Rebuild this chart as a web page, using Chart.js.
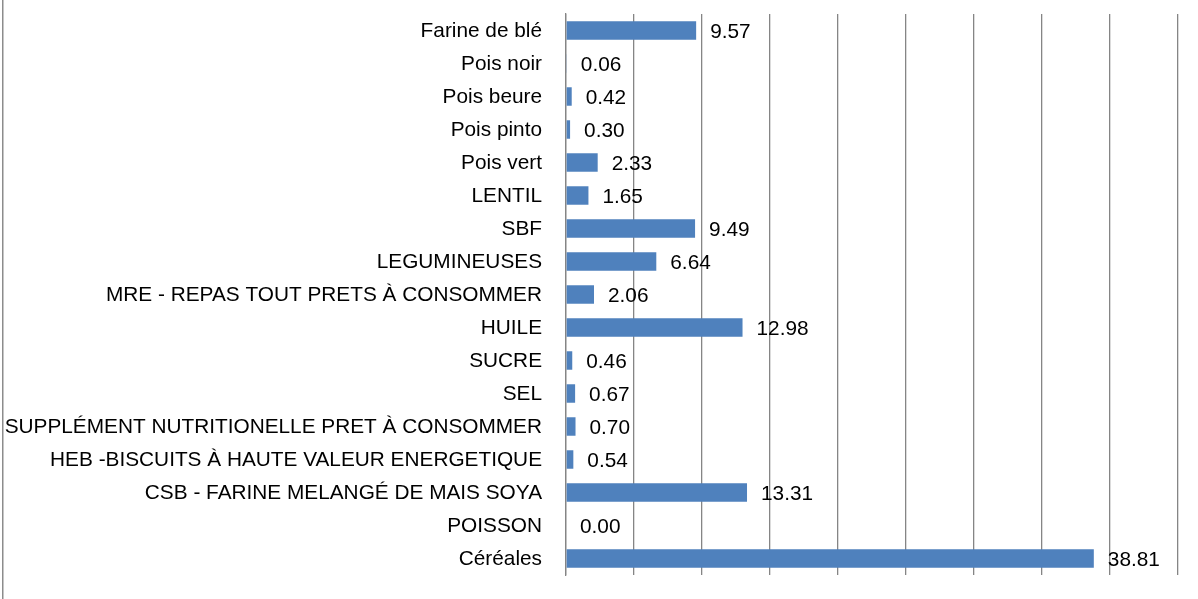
<!DOCTYPE html>
<html>
<head>
<meta charset="utf-8">
<script src="https://cdn.jsdelivr.net/npm/chart.js@4.4.0/dist/chart.umd.min.js"></script>
<style>
html,body{margin:0;padding:0;background:#fff;overflow:hidden}
#wrap{position:relative;width:1198px;height:599px}
canvas{display:block}
</style>
</head>
<body>
<div id="wrap"><canvas id="c" width="1198" height="599"></canvas></div>
<script>
const categories = [
  'Farine de blé',
  'Pois noir',
  'Pois beure',
  'Pois pinto',
  'Pois vert',
  'LENTIL',
  'SBF',
  'LEGUMINEUSES',
  'MRE - REPAS TOUT PRETS À CONSOMMER',
  'HUILE',
  'SUCRE',
  'SEL',
  'SUPPLÉMENT NUTRITIONELLE PRET À CONSOMMER',
  'HEB -BISCUITS À HAUTE VALEUR ENERGETIQUE',
  'CSB - FARINE MELANGÉ DE MAIS SOYA',
  'POISSON',
  'Céréales'
];
const values = [9.57, 0.06, 0.42, 0.30, 2.33, 1.65, 9.49, 6.64, 2.06, 12.98, 0.46, 0.67, 0.70, 0.54, 13.31, 0.00, 38.81];
const xMin = 0;
const xMax = 45;
const xStep = 5;

const FONT = '"Liberation Sans", Arial, sans-serif';
const GRID = '#858585';

const borderPlugin = {
  id: 'leftBorder',
  beforeDraw(chart) {
    const ctx = chart.ctx;
    ctx.save();
    ctx.fillStyle = '#8c8c8c';
    ctx.fillRect(2, 0, 1.5, chart.height);
    ctx.restore();
  }
};

const labelPlugin = {
  id: 'valueLabels',
  afterDatasetsDraw(chart) {
    const ctx = chart.ctx;
    const meta = chart.getDatasetMeta(0);
    ctx.save();
    ctx.font = '20.8px ' + FONT;
    ctx.fillStyle = '#000';
    ctx.textAlign = 'left';
    ctx.textBaseline = 'middle';
    meta.data.forEach((bar, i) => {
      ctx.fillText(values[i].toFixed(2), bar.x + 14, bar.y + 2);
    });
    ctx.restore();
  }
};

new Chart(document.getElementById('c'), {
  type: 'bar',
  data: {
    labels: categories,
    datasets: [{
      data: values,
      backgroundColor: '#4F81BD',
      borderWidth: 0,
      barPercentage: 0.56,
      categoryPercentage: 1.0
    }]
  },
  options: {
    indexAxis: 'y',
    responsive: false,
    animation: false,
    devicePixelRatio: 1,
    layout: { padding: { top: 14, right: 20, left: 0, bottom: 0 } },
    plugins: { legend: { display: false }, tooltip: { enabled: false } },
    scales: {
      x: {
        type: 'linear',
        min: xMin,
        max: xMax,
        ticks: { display: false, stepSize: xStep },
        grid: { display: true, color: GRID, lineWidth: 1.3, drawTicks: false },
        border: { display: false },
        afterFit(scale) {
          scale.height = 24;
          scale.paddingLeft = 0; scale.paddingRight = 0;
          scale.paddingTop = 0; scale.paddingBottom = 0;
        }
      },
      y: {
        ticks: { color: '#000', font: { family: FONT, size: 20.8 }, padding: 24, autoSkip: false, labelOffset: 1 },
        grid: { display: false, drawTicks: false },
        border: { display: true, color: GRID, width: 1.3 },
        afterFit(scale) {
          scale.width = 566;
          scale.paddingTop = 0; scale.paddingBottom = 0;
          scale.paddingLeft = 0; scale.paddingRight = 0;
        }
      }
    }
  },
  plugins: [borderPlugin, labelPlugin]
});
</script>
</body>
</html>
